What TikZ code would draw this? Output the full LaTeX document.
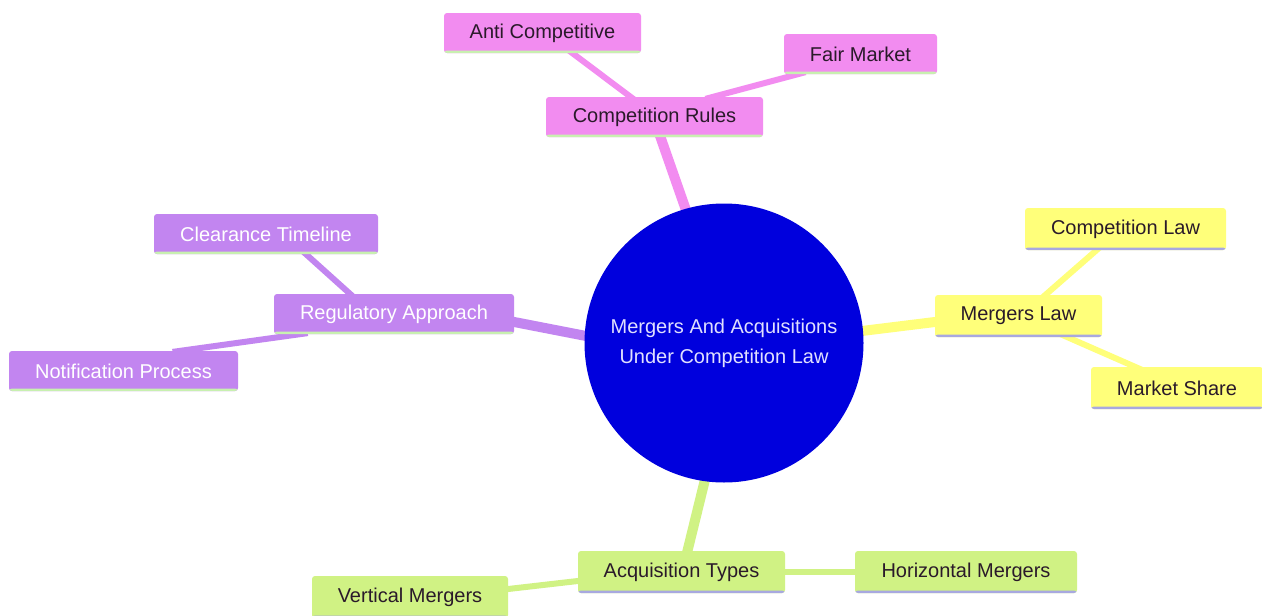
\documentclass[tikz,border=0pt]{standalone}
\usepackage{fontspec}
\setmainfont{Liberation Sans}
\usetikzlibrary{backgrounds}
\definecolor{pinkc}{HTML}{F28CF0}
\definecolor{purpc}{HTML}{C285F0}
\definecolor{yelc}{HTML}{FFFF7A}
\definecolor{grnc}{HTML}{D0F284}
\definecolor{bluec}{HTML}{0000DD}
\definecolor{ulgreen}{HTML}{C8F0B0}
\definecolor{ullav}{HTML}{A8A8E0}
\definecolor{darktext}{HTML}{2A1A2A}
\tikzset{
  box/.style={rounded corners=3pt, minimum height=40pt, inner sep=0pt,
    font=\fontsize{20}{24}\selectfont},
  ulbar/.style={path picture={\fill[#1] ([yshift=-0.5pt]path picture bounding box.south west) rectangle ([yshift=2.5pt]path picture bounding box.south east);}},
  pinkbox/.style={box, fill=pinkc, text=darktext, ulbar=ulgreen},
  purpbox/.style={box, fill=purpc, text=white, ulbar=ulgreen},
  yelbox/.style={box, fill=yelc, text=darktext, ulbar=ullav},
  grnbox/.style={box, fill=grnc, text=darktext, ulbar=ullav},
  mainlink/.style={line width=10pt, shorten <=-10pt, shorten >=-8pt},
  sublink/.style={line width=6pt, shorten <=-8pt, shorten >=-8pt},
}
\begin{document}
\begin{tikzpicture}[x=1pt,y=-1pt]
\useasboundingbox (0,0) rectangle (1262,616);
% central
\node[circle, fill=bluec, minimum size=279pt, inner sep=0pt, text=white!88!blue,
  align=center, font=\fontsize{20}{30}\selectfont] (circ) at (724,343)
  {Mergers And Acquisitions\\Under Competition Law};
% pink branch
\node[pinkbox, minimum width=217pt] (cr) at (654.5,117) {Competition Rules};
\node[pinkbox, minimum width=197pt] (anti) at (542.5,33) {Anti Competitive};
\node[pinkbox, minimum width=153pt] (fair) at (860.5,54) {Fair Market};
% purple branch
\node[purpbox, minimum width=240pt] (ra) at (394,314) {Regulatory Approach};
\node[purpbox, minimum width=224pt] (clt) at (266,234) {Clearance Timeline};
\node[purpbox, minimum width=229pt] (np) at (123.5,371) {Notification Process};
% yellow branch
\node[yelbox, minimum width=167pt, minimum height=42pt] (ml) at (1018.5,316) {Mergers Law};
\node[yelbox, minimum width=201pt, minimum height=42pt] (cl) at (1125.5,229) {Competition Law};
\node[yelbox, minimum width=172pt, minimum height=42pt] (ms) at (1177,388) {Market Share};
% green branch
\node[grnbox, minimum width=207pt, minimum height=42pt] (at) at (681.5,572) {Acquisition Types};
\node[grnbox, minimum width=222pt, minimum height=42pt] (hm) at (966,572) {Horizontal Mergers};
\node[grnbox, minimum width=196pt, minimum height=42pt] (vm) at (410,597) {Vertical Mergers};
\begin{scope}[on background layer]
  \fill[white] (0,0) rectangle (1262,616);
  \draw[pinkc, mainlink] (circ.106) -- ([xshift=6pt]cr.south);
  \draw[pinkc, sublink] ([xshift=30pt]anti.south) -- ([xshift=-24pt]cr.north);
  \draw[pinkc, sublink] ([xshift=14pt]fair.south west) -- ([xshift=-50pt]cr.north east);
  \draw[purpc, mainlink] (circ.177) -- ([yshift=-8pt]ra.east);
  \draw[purpc, sublink] ([xshift=40pt]clt.south) -- ([xshift=-44pt]ra.north);
  \draw[purpc, sublink] ([xshift=57pt]np.north) -- ([xshift=26pt]ra.south west);
  \draw[yelc, mainlink] (circ.5) -- ([yshift=-6pt]ml.west);
  \draw[yelc, sublink] ([xshift=-29pt]cl.south) -- ([xshift=27pt]ml.north);
  \draw[yelc, sublink] ([xshift=-42pt]ms.north) -- ([xshift=49pt]ml.south);
  \draw[grnc, mainlink] (circ.262) -- ([xshift=6pt]at.north);
  \draw[grnc, sublink] (hm.west) -- (at.east);
  \draw[grnc, sublink] ([yshift=8pt]vm.east) -- ([yshift=-9pt]at.west);
\end{scope}
\end{tikzpicture}
\end{document}
